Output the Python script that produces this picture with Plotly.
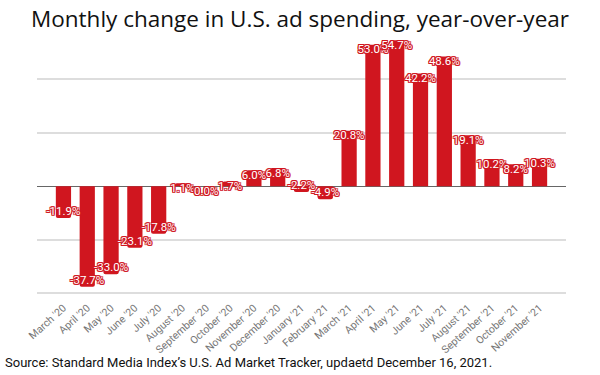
import plotly.graph_objects as go

months = ["March '20", "April '20", "May '20", "June '20", "July '20", "August '20",
          "September '20", "October '20", "November '20", "December '20", "January '21",
          "February '21", "March '21", "April '21", "May '21", "June '21", "July '21",
          "August '21", "September '21", "October '21", "November '21"]
changes = [-11.9, -37.7, -33.0, -23.1, -17.8, 1.1, 0.0, 1.7, 6.0, 6.8, -2.2,
           -4.9, 20.8, 53.0, 54.7, 42.2, 48.6, 19.1, 10.2, 8.2, 10.3]

red = "#d0161f"
labels = [f"{v:.1f}%" for v in changes]
positions = ["top center" if v < 0 else "bottom center" for v in changes]

outline = ", ".join(f"{dx}px {dy}px 0 {red}" for dx, dy in
                    [(-1, -1), (1, -1), (-1, 1), (1, 1), (0, 1), (0, -1), (1, 0), (-1, 0)])

fig = go.Figure()
fig.add_trace(go.Bar(x=months, y=changes, marker=dict(color=red, line=dict(width=0)),
                     hoverinfo="skip"))
fig.add_trace(go.Scatter(x=months, y=changes, mode="text", text=labels,
                         textposition=positions,
                         textfont=dict(family="Roboto", size=11.5, color="white",
                                       shadow=outline),
                         hoverinfo="skip"))

fig.update_layout(
    width=600, height=375,
    margin=dict(l=37, r=34, t=34, b=81, autoexpand=False),
    paper_bgcolor="white", plot_bgcolor="white",
    showlegend=False,
    bargap=0.36,
    barcornerradius=2,
    title=dict(text="Monthly change in U.S. ad spending, year-over-year",
               x=0.5, xanchor="center", y=0.95, yanchor="middle",
               font=dict(family="Open Sans", size=22.5, color="#111111")),
    xaxis=dict(tickangle=-42, tickfont=dict(family="Roboto", size=10.5, color="#777777"),
               ticklabelstandoff=5,
               showgrid=False, ticks="", showline=False, automargin=False),
    yaxis=dict(range=[-40.4, 57], tickvals=[-40, -20, 0, 20, 40], showticklabels=False,
               gridcolor="#dddddd", gridwidth=1.5, zeroline=True,
               zerolinecolor="#666666", zerolinewidth=1, automargin=False),
    annotations=[dict(text="Source: Standard Media Index\u2019s U.S. Ad Market Tracker, updaetd December 16, 2021.",
                      xref="paper", yref="paper", x=-0.064, y=-0.262, xanchor="left",
                      yanchor="middle", showarrow=False,
                      font=dict(family="Roboto", size=13, color="#111111"))],
)

fig.write_html("out.html", config={"displayModeBar": False},
               post_script="document.body.style.margin='0px';")
